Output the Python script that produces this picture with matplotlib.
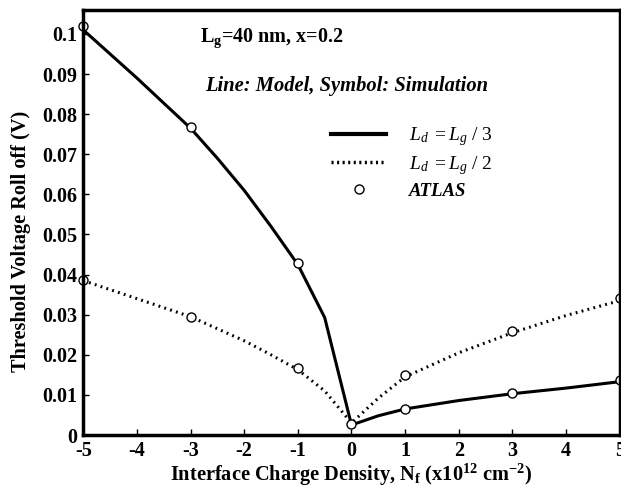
import matplotlib.pyplot as plt
from matplotlib.lines import Line2D

plt.rcParams['font.family'] = ['Liberation Serif', 'DejaVu Serif']
plt.rcParams['mathtext.fontset'] = 'custom'
plt.rcParams['mathtext.it'] = 'Liberation Serif:italic'
plt.rcParams['mathtext.rm'] = 'Liberation Serif'
plt.rcParams['mathtext.bf'] = 'Liberation Serif:bold'
plt.rcParams['axes.unicode_minus'] = False

# model curves
x_model3 = [-5, -4, -3, -2.5, -2, -1.5, -1, -0.5, 0, 0.5, 1, 2, 3, 4, 5]
y_model3 = [0.101, 0.089, 0.0765, 0.069, 0.061, 0.052, 0.0425, 0.0293, 0.0025,
            0.0048, 0.0065, 0.0086, 0.0103, 0.0117, 0.0133]
x_model2 = [-5, -4, -3, -2, -1.5, -1, -0.5, 0, 0.5, 1, 2, 3, 4, 5]
y_model2 = [0.0385, 0.034, 0.0295, 0.0235, 0.0200, 0.0163, 0.0110, 0.003,
            0.0092, 0.0145, 0.0205, 0.0255, 0.0298, 0.0335]

# ATLAS simulation
x_sim3 = [-5, -3, -1, 0, 1, 3, 5]
y_sim3 = [0.102, 0.0768, 0.0430, 0.0028, 0.0065, 0.0104, 0.0136]
x_sim2 = [-5, -3, -1, 1, 3, 5]
y_sim2 = [0.0386, 0.0295, 0.0166, 0.0149, 0.0259, 0.0342]

fig = plt.figure(figsize=(6.21, 4.91), dpi=100)
ax = fig.add_axes([0.134, 0.114, 0.864, 0.866])

ax.plot(x_model3, y_model3, color='black', lw=2.2)
ax.plot(x_model2, y_model2, color='black', lw=2.2, linestyle=(0, (0.6, 1.4)))
ax.plot(x_sim3, y_sim3, 'o', mfc='white', mec='black', ms=6.5, mew=1, clip_on=False)
ax.plot(x_sim2, y_sim2, 'o', mfc='white', mec='black', ms=6.5, mew=1, clip_on=False)

ax.set_xlim(-5, 5)
ax.set_ylim(0, 0.106)
ax.set_xticks(range(-5, 6))
ax.set_yticks([0, 0.01, 0.02, 0.03, 0.04, 0.05, 0.06, 0.07, 0.08, 0.09, 0.1])
ax.set_yticklabels(['0', '0.01', '0.02', '0.03', '0.04', '0.05', '0.06',
                    '0.07', '0.08', '0.09', '0.1'])
ax.tick_params(direction='in', length=4, width=1, labelsize=14.5, pad=4)
for lab in ax.get_xticklabels() + ax.get_yticklabels():
    lab.set_fontweight('bold')
for s in ax.spines.values():
    s.set_linewidth(2.5)

ax.set_xlabel(r'Interface Charge Density, N$_\mathbf{f}$ (x10$^\mathbf{12}$ cm$^\mathbf{-2}$)',
              fontsize=14.7, fontweight='bold')
ax.xaxis.set_label_coords(0.5, -0.064)
ax.set_ylabel('Threshold Voltage Roll off (V)', fontsize=14.6, fontweight='bold')
ax.yaxis.set_label_coords(-0.097, 0.456)

ax.text(-2.82, 0.0988, r'L$_\mathbf{g}$=40 nm, x=0.2', fontsize=14.5, fontweight='bold', va='center')
ax.text(-2.72, 0.0871, 'Line: Model, Symbol: Simulation', fontsize=14.8,
        fontweight='bold', style='italic', va='center')

handles = [Line2D([], [], color='black', lw=3),
           Line2D([], [], color='black', lw=2.5, linestyle=(0, (0.6, 1.0))),
           Line2D([], [], marker='o', linestyle='none', mfc='white', mec='black', ms=6.5)]
labels = [r'$L_d\ = L_g\ /\ 3$', r'$L_d\ = L_g\ /\ 2$', 'ATLAS']
leg = ax.legend(handles, labels, loc='upper left', bbox_to_anchor=(0.43, 0.77),
                frameon=False, fontsize=14, handlelength=2.8, handletextpad=1.2,
                labelspacing=0.3)
leg.get_texts()[2].set_fontweight('bold')
leg.get_texts()[2].set_style('italic')
leg.get_texts()[2].set_fontsize(13.5)

plt.savefig('out.png', dpi=100)
